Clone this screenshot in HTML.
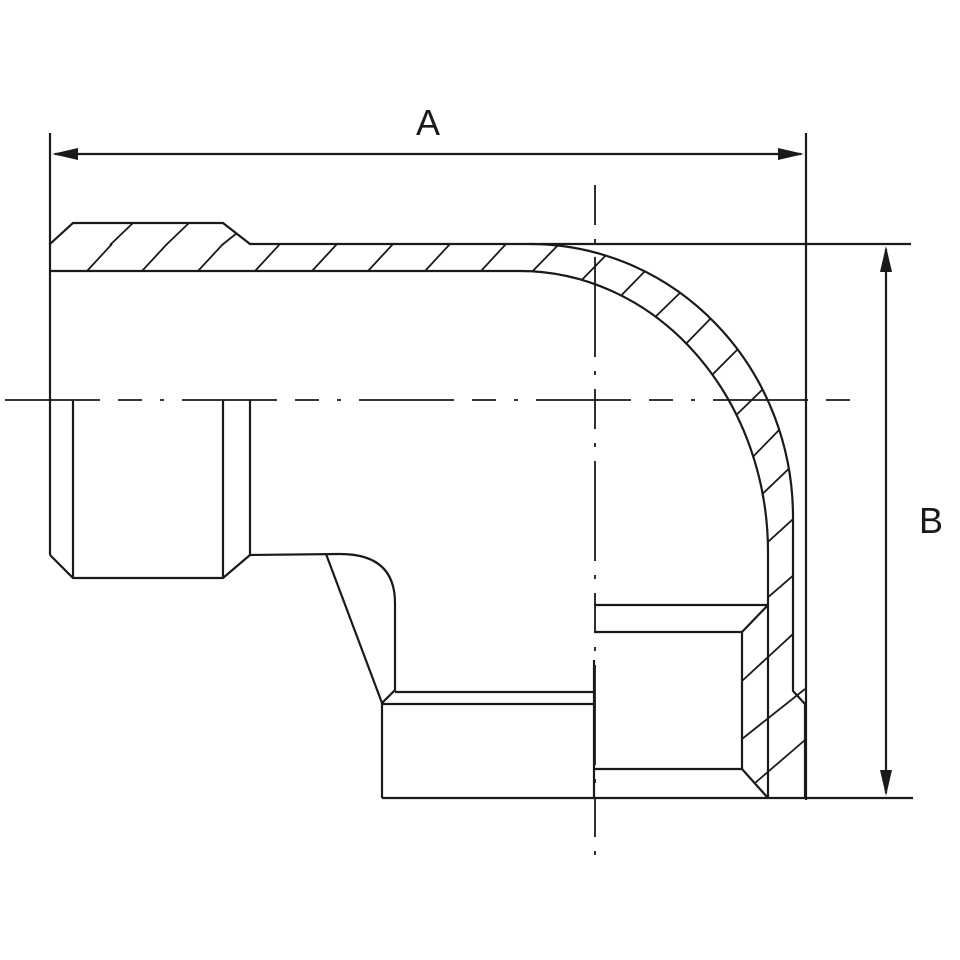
<!DOCTYPE html>
<html><head><meta charset="utf-8"><style>html,body{margin:0;padding:0;background:#fff}svg{display:block}</style></head><body>
<svg width="960" height="960" viewBox="0 0 960 960" xmlns="http://www.w3.org/2000/svg">
<defs>
<clipPath id="wall"><path d="M515,244 L530,244 A263,273 0 0 1 793,517 L793,700 L768,700 L768,552 A248,281 0 0 0 520,271 L515,271 Z"/></clipPath>
</defs>
<rect width="960" height="960" fill="#fff"/>
<g fill="none" stroke="#1a1a1a" stroke-width="2.2" stroke-linejoin="miter">
<line x1="50" y1="133" x2="50" y2="555"/>
<line x1="806" y1="133" x2="806" y2="800"/>
<line x1="530" y1="244" x2="911" y2="244"/>
<line x1="382" y1="798" x2="913" y2="798"/>
<line x1="55" y1="154" x2="801" y2="154"/>
<line x1="886" y1="249" x2="886" y2="793"/>
<path d="M50,244 L73,223 L223,223 L250,244 L530,244"/>
<path d="M530,244 A263,273 0 0 1 793,517 L793,691 L805,704 L805,798"/>
<path d="M50,271 L520,271 A248,281 0 0 1 768,552 L768,798"/>
<path d="M50,555 L73,578 L223,578 L250,555 L340,554 Q395,554 395,603 L395,690 L382,703 L382,798"/>
<line x1="73" y1="400" x2="73" y2="578"/>
<line x1="223" y1="400" x2="223" y2="578"/>
<line x1="250" y1="400" x2="250" y2="555"/>
<line x1="326" y1="554" x2="382" y2="703"/>
<line x1="395" y1="692" x2="594" y2="692"/>
<line x1="382" y1="704" x2="594" y2="704"/>
<line x1="594" y1="605" x2="768" y2="605"/>
<path d="M594,632 L742,632 L768,605"/>
<path d="M594,769 L742,769 L768,798"/>
<line x1="742" y1="632" x2="742" y2="769"/>
<line x1="594" y1="660" x2="594" y2="798"/>
<g stroke-width="1.8">
<line x1="110" y1="245" x2="133" y2="223"/>
<line x1="166" y1="245" x2="189" y2="223"/>
<line x1="222" y1="245" x2="237" y2="233"/>
<line x1="87" y1="271" x2="112" y2="244"/>
<line x1="142" y1="271" x2="167" y2="244"/>
<line x1="198" y1="271" x2="223" y2="244"/>
<line x1="255" y1="271" x2="280" y2="244"/>
<line x1="312" y1="271" x2="337" y2="244"/>
<line x1="368" y1="271" x2="393" y2="244"/>
<line x1="425" y1="271" x2="450" y2="244"/>
<line x1="481" y1="271" x2="506" y2="244"/>
<line x1="742" y1="681" x2="793" y2="634"/>
<line x1="742" y1="739" x2="805" y2="689"/>
<line x1="755" y1="783" x2="805" y2="740"/>
</g>
<g stroke-width="1.8" clip-path="url(#wall)">
<line x1="525" y1="279" x2="563" y2="240"/>
<line x1="572" y1="290" x2="612" y2="249"/>
<line x1="610" y1="307" x2="650" y2="266"/>
<line x1="647" y1="325" x2="685" y2="288"/>
<line x1="677" y1="353" x2="715" y2="314"/>
<line x1="703" y1="384" x2="744" y2="343"/>
<line x1="725" y1="426" x2="765" y2="387"/>
<line x1="742" y1="468" x2="784" y2="425"/>
<line x1="755" y1="501" x2="798" y2="460"/>
<line x1="758" y1="551" x2="803" y2="510"/>
<line x1="758" y1="606" x2="803" y2="567"/>
</g>
</g>
<g stroke="#1a1a1a" stroke-width="1.8" fill="none">
<line x1="5" y1="400" x2="858" y2="400" stroke-dasharray="95 18 24 18 4 18"/>
<line x1="595" y1="185" x2="595" y2="862" stroke-dasharray="40 14 4 14 100 14 4 14"/>
</g>
<g fill="#1a1a1a">
<polygon points="52,154 78,148 78,160"/>
<polygon points="804,154 778,148 778,160"/>
<polygon points="886,246 880,272 892,272"/>
<polygon points="886,796 880,770 892,770"/>
</g>
<g font-family="Liberation Sans, sans-serif" font-size="36" fill="#1a1a1a" text-anchor="middle">
<text x="428" y="135">A</text>
<text x="931" y="533">B</text>
</g>
</svg>
</body></html>
